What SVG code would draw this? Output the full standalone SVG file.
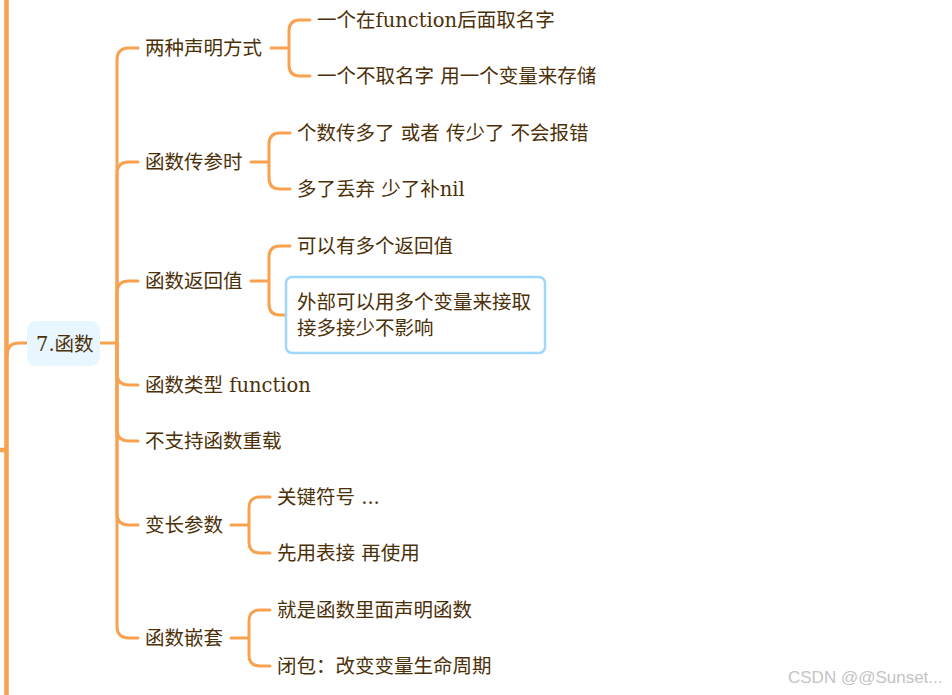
<svg xmlns="http://www.w3.org/2000/svg" width="952" height="695" viewBox="0 0 952 695">
<style>
.c{fill:none;stroke:#f8a24f;stroke-width:3;stroke-linecap:round;stroke-linejoin:round}
.m{fill:none;stroke:#f8a24f;stroke-width:4.5}
.t{font-family:"DejaVu Serif","Noto Sans CJK SC",serif;font-size:19.5px;fill:#4b3008}
.w{font-family:"Liberation Sans",Arial,sans-serif;font-size:17px;fill:#c4c4c4}
</style>
<rect width="952" height="695" fill="#ffffff"/>
<g id="connectors">
<line class="m" x1="6.5" y1="0" x2="6.5" y2="695"/>
<line class="m" x1="0" y1="450" x2="5" y2="450"/>
<path class="c" d="M7,356 Q7,343 19,343 H27"/>
<path class="c" d="M100,343 H117"/>
<path class="c" d="M117,343 V60 Q117,48 129,48 H138"/>
<path class="c" d="M117,343 V174 Q117,162 129,162 H138"/>
<path class="c" d="M117,343 V293 Q117,281 129,281 H138"/>
<path class="c" d="M117,343 V373 Q117,385 129,385 H138"/>
<path class="c" d="M117,343 V429 Q117,441 129,441 H138"/>
<path class="c" d="M117,343 V513 Q117,525 129,525 H138"/>
<path class="c" d="M117,343 V626 Q117,638 129,638 H138"/>
<path class="c" d="M271,48 H289 M289,48 V31 Q289,20 300,20 H310 M289,48 V65 Q289,76 300,76 H310"/>
<path class="c" d="M251,162 H269 M269,162 V144 Q269,133 280,133 H290 M269,162 V178 Q269,189 280,189 H290"/>
<path class="c" d="M251,281 H269 M269,281 V257 Q269,246 280,246 H290 M269,281 V304 Q269,315 280,315 H287"/>
<path class="c" d="M231,525 H249 M249,525 V508 Q249,497 260,497 H270 M249,525 V542 Q249,553 260,553 H270"/>
<path class="c" d="M231,638 H249 M249,638 V621 Q249,610 260,610 H270 M249,638 V655 Q249,666 260,666 H270"/>
</g>
<g id="root">
<rect x="27" y="321" width="73" height="45" rx="9" fill="#e8f6ff"/>
<text class="t" x="36" y="351">7.函数</text>
</g>
<g id="n1"><text class="t" x="145" y="55">两种声明方式</text></g>
<g id="n1a"><text class="t" x="317" y="27">一个在function后面取名字</text></g>
<g id="n1b"><text class="t" x="317" y="83">一个不取名字 用一个变量来存储</text></g>
<g id="n2"><text class="t" x="145" y="169">函数传参时</text></g>
<g id="n2a"><text class="t" x="297" y="140">个数传多了 或者 传少了 不会报错</text></g>
<g id="n2b"><text class="t" x="297" y="196">多了丢弃 少了补nil</text></g>
<g id="n3"><text class="t" x="145" y="288">函数返回值</text></g>
<g id="n3a"><text class="t" x="297" y="253">可以有多个返回值</text></g>
<g id="n3b">
<rect x="286" y="277" width="259" height="76" rx="6" fill="#ffffff" stroke="#9ed8fa" stroke-width="2.5"/>
<text class="t" x="297" y="309">外部可以用多个变量来接取</text>
<text class="t" x="297" y="335">接多接少不影响</text>
</g>
<g id="n4"><text class="t" x="145" y="392">函数类型 function</text></g>
<g id="n5"><text class="t" x="145" y="448">不支持函数重载</text></g>
<g id="n6"><text class="t" x="145" y="532">变长参数</text></g>
<g id="n6a"><text class="t" x="277" y="504">关键符号 ...</text></g>
<g id="n6b"><text class="t" x="277" y="560">先用表接 再使用</text></g>
<g id="n7"><text class="t" x="145" y="645">函数嵌套</text></g>
<g id="n7a"><text class="t" x="277" y="617">就是函数里面声明函数</text></g>
<g id="n7b"><text class="t" x="277" y="673">闭包：改变变量生命周期</text></g>
<text class="w" x="788" y="683">CSDN @@Sunset...</text>
</svg>
